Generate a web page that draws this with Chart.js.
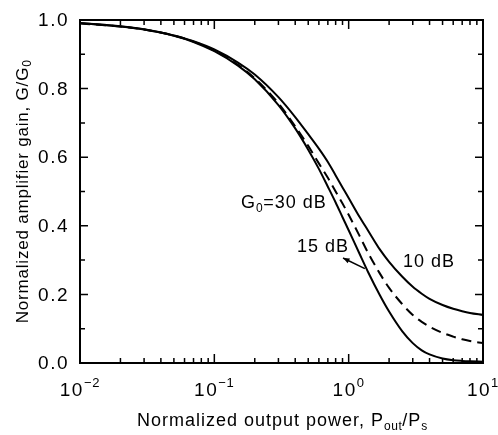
<!DOCTYPE html>
<html lang="en">
<head>
    <meta charset="UTF-8">
    <title>Normalized amplifier gain</title>
    <script src="https://cdn.jsdelivr.net/npm/chart.js"></script>
    <style>
        html, body {
            margin: 0;
            padding: 0;
            background-color: #fff;
        }

        .chart-container {
            width: 498px;
            height: 435px;
        }
    </style>
</head>
<body>
    <div class="chart-container">
        <canvas id="gainChart"></canvas>
    </div>

    <script>
        // Normalized output power Pout/Ps (x axis, log scale)
        const powerRatio = [0.01, 0.02, 0.03, 0.05, 0.07, 0.1, 0.15, 0.2, 0.3, 0.4, 0.5, 0.6, 0.7, 0.8, 0.9,
                            1.0, 1.2, 1.4, 1.7, 2.0, 2.5, 3.0, 3.5, 4.0, 5.0, 6.0, 7.0, 8.0, 10];

        // Normalized gain G/G0
        const gain30dB = [0.991, 0.981, 0.972, 0.954, 0.936, 0.909, 0.867, 0.827, 0.752, 0.684, 0.622, 0.566, 0.514, 0.468, 0.425,
                          0.387, 0.320, 0.264, 0.199, 0.150, 0.093, 0.058, 0.037, 0.025, 0.013, 0.008, 0.006, 0.005, 0.004];
        const gain15dB = [0.990, 0.981, 0.972, 0.955, 0.937, 0.911, 0.869, 0.830, 0.757, 0.690, 0.633, 0.582, 0.540, 0.500, 0.465,
                          0.432, 0.372, 0.320, 0.262, 0.219, 0.172, 0.140, 0.120, 0.106, 0.088, 0.077, 0.069, 0.064, 0.058];
        const gain10dB = [0.991, 0.982, 0.973, 0.955, 0.938, 0.914, 0.876, 0.841, 0.775, 0.717, 0.667, 0.625, 0.586, 0.547, 0.512,
                          0.481, 0.427, 0.385, 0.332, 0.295, 0.252, 0.222, 0.202, 0.187, 0.169, 0.158, 0.151, 0.146, 0.140];

        // Tick labels
        const yTickValues = [0, 0.2, 0.4, 0.6, 0.8, 1.0];
        const yTickLabels = ['0.0', '0.2', '0.4', '0.6', '0.8', '1.0'];
        const xTickValues = [0.01, 0.1, 1, 10];
        const xTickExponents = ['\u22122', '\u22121', '0', '1'];

        const FONT = '"Liberation Sans", Arial, sans-serif';

        function toPoints(values) {
            return powerRatio.map((x, i) => ({ x: x, y: values[i] }));
        }

        // draws text pieces like [['G',''], ['0','sub'], ['=30 dB','']] starting at (x, y)
        function drawRich(ctx, parts, x, y, size, spacing) {
            ctx.textBaseline = 'middle';
            ctx.textAlign = 'left';
            let cx = x;
            parts.forEach(([txt, kind]) => {
                ctx.letterSpacing = (kind ? spacing * 0.5 : spacing) + 'px';
                if (kind === 'sub') {
                    ctx.font = `${Math.round(size * 0.68)}px ${FONT}`;
                    ctx.fillText(txt, cx, y + size * 0.3);
                } else if (kind === 'sup') {
                    ctx.font = `${Math.round(size * 0.68)}px ${FONT}`;
                    ctx.fillText(txt, cx, y - size * 0.4);
                } else {
                    ctx.font = `${size}px ${FONT}`;
                    ctx.fillText(txt, cx, y);
                }
                cx += ctx.measureText(txt).width;
            });
            ctx.letterSpacing = '0px';
            return cx - x;
        }

        function richWidth(ctx, parts, size, spacing) {
            let w = 0;
            parts.forEach(([txt, kind]) => {
                const s = kind ? Math.round(size * 0.68) : size;
                ctx.letterSpacing = (kind ? spacing * 0.5 : spacing) + 'px';
                ctx.font = `${s}px ${FONT}`;
                w += ctx.measureText(txt).width;
            });
            ctx.letterSpacing = '0px';
            return w;
        }

        const framePlugin = {
            id: 'framePlugin',
            afterDraw(chart) {
                const ctx = chart.ctx;
                const area = chart.chartArea;
                const xs = chart.scales.x;
                const ys = chart.scales.y;
                ctx.save();
                ctx.strokeStyle = '#000';
                ctx.fillStyle = '#000';

                // frame
                ctx.lineWidth = 2;
                ctx.strokeRect(area.left, area.top, area.right - area.left, area.bottom - area.top);

                // y ticks (inward, both sides)
                ctx.lineWidth = 1.5;
                for (let k = 0; k <= 10; k++) {
                    const py = ys.getPixelForValue(k / 10);
                    const len = k % 2 === 0 ? 8 : 5;
                    ctx.beginPath();
                    ctx.moveTo(area.left, py); ctx.lineTo(area.left + len, py);
                    ctx.moveTo(area.right, py); ctx.lineTo(area.right - len, py);
                    ctx.stroke();
                }

                // x ticks (inward, top and bottom)
                for (let d = -2; d <= 1; d++) {
                    for (let m = 1; m <= 9; m++) {
                        const v = m * Math.pow(10, d);
                        if (v > 10.0001) continue;
                        const px = xs.getPixelForValue(v);
                        const len = m === 1 ? 9 : 5;
                        ctx.beginPath();
                        ctx.moveTo(px, area.bottom); ctx.lineTo(px, area.bottom - len);
                        ctx.moveTo(px, area.top); ctx.lineTo(px, area.top + len);
                        ctx.stroke();
                    }
                }

                // y tick labels
                ctx.font = `19px ${FONT}`;
                ctx.letterSpacing = '1.5px';
                ctx.textAlign = 'right';
                ctx.textBaseline = 'middle';
                yTickValues.forEach((v, i) => {
                    ctx.fillText(yTickLabels[i], area.left - 11, ys.getPixelForValue(v) + 1);
                });
                ctx.letterSpacing = '0px';

                // x tick labels with superscript exponents
                xTickValues.forEach((v, i) => {
                    const parts = [['10', ''], [xTickExponents[i], 'sup']];
                    const w = richWidth(ctx, parts, 19, 1.5);
                    drawRich(ctx, parts, xs.getPixelForValue(v) - w / 2, area.bottom + 28, 19, 1.5);
                });

                // x axis title
                const xTitle = [['Normalized output power, P', ''], ['out', 'sub'], ['/P', ''], ['s', 'sub']];
                drawRich(ctx, xTitle, 137, area.bottom + 58, 18, 1);

                // y axis title (rotated)
                ctx.save();
                ctx.translate(23, (area.top + area.bottom) / 2);
                ctx.rotate(-Math.PI / 2);
                const yTitle = [['Normalized amplifier gain, G/G', ''], ['0', 'sub']];
                const yw = richWidth(ctx, yTitle, 17, 0.8);
                drawRich(ctx, yTitle, -yw / 2, 0, 17, 0.8);
                ctx.restore();

                // curve annotations
                drawRich(ctx, [['G', ''], ['0', 'sub'], ['=30 dB', '']], xs.getPixelForValue(0.158), ys.getPixelForValue(0.466), 18, 1);
                drawRich(ctx, [['15 dB', '']], xs.getPixelForValue(0.413), ys.getPixelForValue(0.338), 18, 1);
                drawRich(ctx, [['10 dB', '']], xs.getPixelForValue(2.54), ys.getPixelForValue(0.294), 18, 1);

                // arrow from the 15 dB curve toward its label
                const ax1 = xs.getPixelForValue(1.32), ay1 = ys.getPixelForValue(0.275);
                const ax2 = xs.getPixelForValue(0.908), ay2 = ys.getPixelForValue(0.306);
                ctx.lineWidth = 1.5;
                ctx.beginPath();
                ctx.moveTo(ax1, ay1); ctx.lineTo(ax2, ay2);
                ctx.stroke();
                const ang = Math.atan2(ay2 - ay1, ax2 - ax1);
                ctx.beginPath();
                ctx.moveTo(ax2, ay2);
                ctx.lineTo(ax2 - 7 * Math.cos(ang - 0.4), ay2 - 7 * Math.sin(ang - 0.4));
                ctx.lineTo(ax2 - 7 * Math.cos(ang + 0.4), ay2 - 7 * Math.sin(ang + 0.4));
                ctx.closePath();
                ctx.fill();

                ctx.restore();
            }
        };

        const ctx = document.getElementById('gainChart').getContext('2d');
        const gainChart = new Chart(ctx, {
            type: 'line',
            data: {
                datasets: [
                    { label: 'G0=30 dB', data: toPoints(gain30dB), borderColor: '#000', borderWidth: 2, pointRadius: 0, cubicInterpolationMode: 'monotone', fill: false },
                    { label: '15 dB', data: toPoints(gain15dB), borderColor: '#000', borderWidth: 2, borderDash: [10, 6], pointRadius: 0, cubicInterpolationMode: 'monotone', fill: false },
                    { label: '10 dB', data: toPoints(gain10dB), borderColor: '#000', borderWidth: 2, pointRadius: 0, cubicInterpolationMode: 'monotone', fill: false }
                ]
            },
            options: {
                responsive: true,
                maintainAspectRatio: false,
                animation: false,
                layout: {
                    padding: { left: 80, right: 15, top: 20, bottom: 72 }
                },
                plugins: {
                    legend: { display: false },
                    tooltip: { enabled: false }
                },
                scales: {
                    x: {
                        type: 'logarithmic',
                        min: 0.01,
                        max: 10,
                        ticks: { display: false },
                        grid: { display: false },
                        border: { display: false },
                        afterFit(scale) { scale.height = 0; }
                    },
                    y: {
                        min: 0,
                        max: 1,
                        ticks: { display: false },
                        grid: { display: false },
                        border: { display: false },
                        afterFit(scale) { scale.width = 0; }
                    }
                }
            },
            plugins: [framePlugin]
        });
    </script>
</body>
</html>
